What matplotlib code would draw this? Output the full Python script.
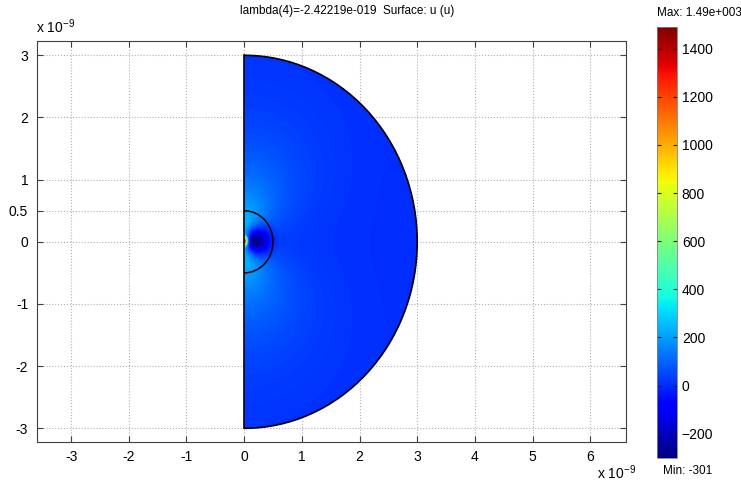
import numpy as np
import matplotlib
matplotlib.use("Agg")
import matplotlib.pyplot as plt
from matplotlib.patches import Wedge, Arc
from matplotlib import cm, colors

plt.rcParams['font.family'] = ['Liberation Sans', 'DejaVu Sans']

# geometry (units of 1e-9)
outer_radius = 3.0
inner_radius = 0.5

# field range
u_min = -301
u_max = 1490
cbar_ticks = [-200, 0, 200, 400, 600, 800, 1000, 1200, 1400]

# field features
peak_value = 1490      # bright spot on the axis at the origin
peak_width = 0.06
trough_value = -350    # dark lobe just right of the origin
trough_centre = 0.2
trough_width = 0.22
halo_value = 380       # light halo along the symmetry axis
halo_decay = 0.9

xticks = [-3, -2, -1, 0, 1, 2, 3, 4, 5, 6]
yticks = [-3, -2, -1, 0, 0.5, 1, 2, 3]
title = "lambda(4)=-2.42219e-019  Surface: u (u)"

# build the surface on a fine grid
xs = np.linspace(0, outer_radius, 800)
ys = np.linspace(-outer_radius, outer_radius, 1600)
X, Y = np.meshgrid(xs, ys)
R = np.hypot(X, Y) + 1e-9
angular = (Y**2 + 0.2 * X**2) / R**2
U = (peak_value * np.exp(-(R / peak_width) ** 2)
     + trough_value * np.exp(-((X - trough_centre) ** 2 + Y ** 2) / trough_width ** 2)
     + halo_value * np.exp(-R / halo_decay) * angular)
U = np.clip(U, u_min, u_max)

fig = plt.figure(figsize=(7.41, 4.87), dpi=100)
ax = fig.add_axes([0.0493, 0.0924, 0.7955, 0.8234])

norm = colors.Normalize(vmin=u_min, vmax=u_max)
im = ax.imshow(U, extent=[0, outer_radius, -outer_radius, outer_radius],
               origin='lower', cmap='jet', norm=norm, interpolation='bilinear',
               zorder=1, aspect='auto')
clip = Wedge((0, 0), outer_radius, -90, 90, transform=ax.transData)
im.set_clip_path(clip)

# boundaries
ax.add_patch(Arc((0, 0), 2 * outer_radius, 2 * outer_radius, theta1=-90, theta2=90,
                 color='black', lw=1.2, zorder=3))
ax.add_patch(Arc((0, 0), 2 * inner_radius, 2 * inner_radius, theta1=-90, theta2=90,
                 color='black', lw=1.1, zorder=3))
ax.plot([0, 0], [-outer_radius, outer_radius], color='black', lw=1.2, zorder=3)

ax.set_xlim(-3.6, 6.62)
ax.set_ylim(-3.22, 3.23)
ax.set_xticks(xticks)
ax.set_yticks(yticks)
ax.set_xticklabels([str(t) for t in xticks])
ax.set_yticklabels(["0.5" if t == 0.5 else str(int(t)) for t in yticks])
ax.grid(True, linestyle=':', color='#b0b0b0', lw=0.8)
ax.set_axisbelow(True)
ax.tick_params(direction='in', top=True, right=True, length=4, labelsize=10,
               color='#404040', pad=6)
for s in ax.spines.values():
    s.set_color('#404040')
    s.set_linewidth(0.8)

fig.text(0.468, 0.977, title, fontsize=8.5, ha='center', va='center')
fig.text(0.049, 0.945, r"x 10$^{\mathregular{-9}}$", fontsize=10, ha='left', va='center')
fig.text(0.806, 0.03, r"x 10$^{\mathregular{-9}}$", fontsize=10, ha='left', va='center')

# colour bar
cax = fig.add_axes([0.8866, 0.0595, 0.027, 0.885])
sm = cm.ScalarMappable(norm=norm, cmap='jet')
cb = fig.colorbar(sm, cax=cax)
cb.set_ticks(cbar_ticks)
cb.ax.tick_params(direction='in', left=True, right=True, length=3, labelsize=10,
                  color='#202020')
cb.outline.set_edgecolor('#808080')
cb.outline.set_linewidth(0.6)
fig.text(0.887, 0.973, "Max: 1.49e+003", fontsize=8.5, ha='left', va='center')
fig.text(0.895, 0.033, "Min: -301", fontsize=8.5, ha='left', va='center')

fig.savefig("out.png", dpi=100)
